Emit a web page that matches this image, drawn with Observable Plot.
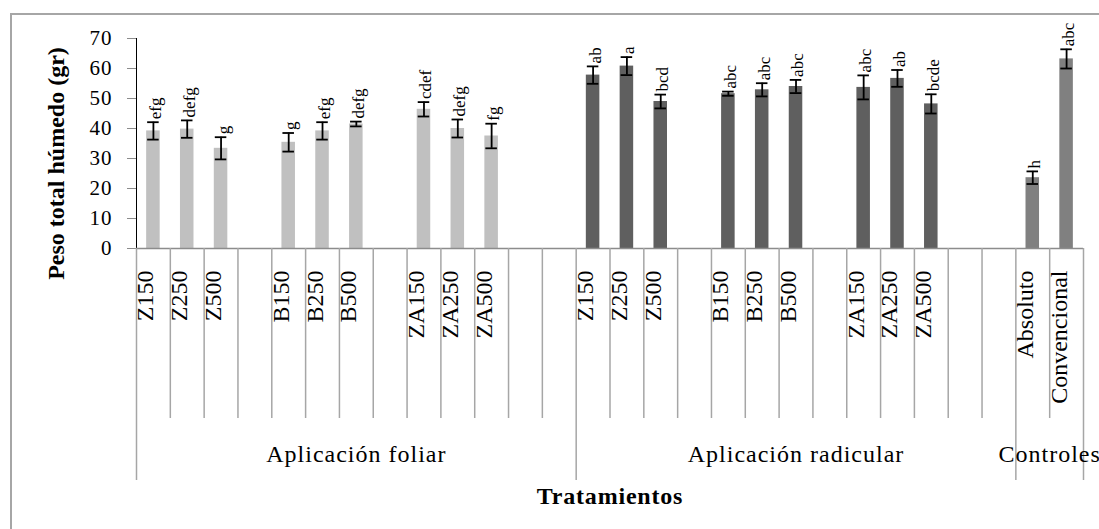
<!DOCTYPE html>
<html>
<head>
<meta charset="utf-8">
<script src="https://cdn.jsdelivr.net/npm/d3@7"></script>
<script src="https://cdn.jsdelivr.net/npm/@observablehq/plot@0.6"></script>
<style>
  html, body { margin: 0; padding: 0; background: #fff; overflow: hidden; }
  #wrap { position: relative; width: 1099px; height: 529px; }
  #frame { position: absolute; left: 10px; top: 13px; width: 1089px; height: 516px;
           border-left: 2px solid #a6a6a6; border-top: 2px solid #a6a6a6; box-sizing: border-box; }
  #chart { position: absolute; left: 0; top: 0; }
</style>
</head>
<body>
<div id="wrap"><div id="frame"></div><div id="chart"></div></div>
<script>
// ---- data ----
const groups = ["Aplicación foliar", "Aplicación radicular", "Controles"];
const groupColors = ["#c0c0c0", "#5f5f5f", "#808080"];
const treatmentSlots = ["Z150", "Z250", "Z500", null, "B150", "B250", "B500", null, "ZA150", "ZA250", "ZA500", null, null];
const controlSlots = ["Absoluto", "Convencional"];

const foliarMeans   = [39.2, 39.8, 33.4, 35.4, 39.2, 41.5, 46.4, 40.0, 37.5];
const foliarErr     = [2.9, 2.9, 3.7, 3.1, 2.9, 0.8, 2.4, 3.0, 4.1];
const foliarLetters = ["efg", "defg", "g", "g", "efg", "defg", "cdef", "defg", "fg"];

const radicularMeans   = [57.8, 60.8, 49.0, 51.6, 52.9, 54.0, 53.7, 56.7, 48.2];
const radicularErr     = [2.9, 3.0, 2.3, 0.7, 2.2, 2.2, 4.0, 2.8, 3.2];
const radicularLetters = ["ab", "a", "bcd", "abc", "abc", "abc", "abc", "ab", "bcde"];

const controlMeans   = [23.6, 63.2];
const controlErr     = [2.1, 3.2];
const controlLetters = ["h", "abc"];

const yTicks = [0, 10, 20, 30, 40, 50, 60, 70];
const yTitle = "Peso total húmedo (gr)";
const xTitle = "Tratamientos";

// ---- table ----
const rows = [];
function addGroup(group, slots, means, errs, letters) {
  let k = 0;
  slots.forEach((label, i) => {
    const r = {id: group + "|" + i, group, label, first: i === 0};
    if (label) { r.value = means[k]; r.err = errs[k]; r.letter = letters[k]; k++; }
    rows.push(r);
  });
}
addGroup(groups[0], treatmentSlots, foliarMeans, foliarErr, foliarLetters);
addGroup(groups[1], treatmentSlots, radicularMeans, radicularErr, radicularLetters);
addGroup(groups[2], controlSlots, controlMeans, controlErr, controlLetters);
const bars = rows.filter(r => r.label);

// ---- layout ----
const W = 1099, H = 529, ML = 136, MR = 16, MT = 38, MB = 281;
const step = (W - ML - MR) / rows.length;
const plotH = H - MT - MB;
const serif = "'Liberation Serif', 'Times New Roman', serif";
const gridGray = "#a6a6a6";

const groupMarks = groups.map(g => {
  const gs = rows.filter(r => r.group === g);
  const half = (gs.length - 1) / 2, ci = Math.floor(half);
  return Plot.text([gs[ci]], {x: "id", frameAnchor: "bottom", text: () => g, textAnchor: "middle",
    dx: (half - ci) * step, dy: 213, fontSize: 24, fill: "black"});
});

const chart = Plot.plot({
  width: W, height: H,
  marginLeft: ML, marginRight: MR, marginTop: MT, marginBottom: MB,
  style: {fontFamily: serif, fontSize: "21px", background: "transparent", color: "black", overflow: "visible"},
  x: {domain: rows.map(r => r.id), paddingInner: 0.6, paddingOuter: 0.3, round: false, axis: null},
  y: {domain: [0, 70], ticks: yTicks, tickSize: 9, tickPadding: 15, line: true, label: null},
  color: {domain: groups, range: groupColors},
  marks: [
    Plot.barY(bars, {x: "id", y: "value", fill: "group"}),
    Plot.ruleY([0], {stroke: "#8c8c8c", strokeWidth: 1.5}),
    // dividers below the axis
    Plot.ruleX(rows.filter(r => !r.first), {x: "id", dx: -step / 2, insetTop: plotH, insetBottom: -170, stroke: gridGray, strokeWidth: 1.5}),
    Plot.ruleX(rows.filter(r => r.first), {x: "id", dx: -step / 2, insetTop: plotH, insetBottom: -232, stroke: gridGray, strokeWidth: 1.5}),
    Plot.ruleX([rows[rows.length - 1]], {x: "id", dx: step / 2, insetTop: plotH, insetBottom: -232, stroke: gridGray, strokeWidth: 1.5}),
    // error bars
    Plot.ruleX(bars, {x: "id", y1: d => d.value - d.err, y2: d => d.value + d.err, stroke: "black", strokeWidth: 1.8}),
    Plot.tickY(bars, {x: "id", y: d => d.value - d.err, stroke: "black", strokeWidth: 1.8, inset: 1}),
    Plot.tickY(bars, {x: "id", y: d => d.value + d.err, stroke: "black", strokeWidth: 1.8, inset: 1}),
    // significance letters (vertical, reading upwards)
    Plot.text(bars, {x: "id", y: d => d.value + d.err, text: "letter", rotate: -90, textAnchor: "start",
      dx: 2, dy: -3, fontSize: 17, fill: "black"}),
    // category labels
    Plot.text(bars, {x: "id", frameAnchor: "bottom", text: "label", rotate: -90, textAnchor: "end",
      dy: 22, fontSize: 24, fill: "black"}),
    ...groupMarks,
    Plot.text([xTitle], {frameAnchor: "bottom", text: d => d, textAnchor: "middle", dy: 255, fontSize: 24, fontWeight: "bold", fill: "black"}),
    Plot.text([yTitle], {frameAnchor: "left", text: d => d, rotate: -90, textAnchor: "middle", dx: -80, dy: 20, fontSize: 24, fontWeight: "bold", fill: "black"})
  ]
});
document.getElementById("chart").appendChild(chart);

const svgNode = chart.tagName.toLowerCase() === "svg" ? chart : chart.querySelector("svg");
const svg = d3.select(svgNode);
// y axis in grey with black labels; slightly wider horizontal texts
svg.selectAll('g[aria-label^="y-axis"]').style("color", "#8c8c8c");
svg.selectAll('g[aria-label^="y-axis"] text').attr("fill", "black").style("fill", "black").style("letter-spacing", "1px");
svg.selectAll("text").filter(function () { return groups.includes(this.textContent); }).style("letter-spacing", "1px");
svg.selectAll("text").filter(function () { return this.textContent === xTitle; }).style("letter-spacing", "0.8px");
</script>
</body>
</html>
